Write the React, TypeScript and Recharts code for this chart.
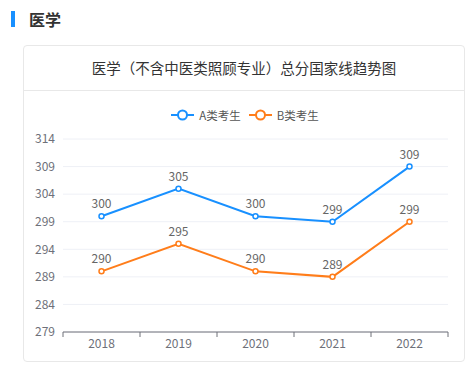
import { CartesianGrid, LabelList, Line, LineChart, XAxis, YAxis } from "recharts";

const YEARS = ["2018", "2019", "2020", "2021", "2022"];
const SCORES_A = [300, 305, 300, 299, 309];
const SCORES_B = [290, 295, 290, 289, 299];
const Y_TICKS = [279, 284, 289, 294, 299, 304, 309, 314];

const BLUE = "#1890ff";
const ORANGE = "#ff7d1a";
const FONT = '"Noto Sans CJK SC", "Noto Sans", sans-serif';

const data = YEARS.map((year, i) => ({ year, a: SCORES_A[i], b: SCORES_B[i] }));

const PLOT_LEFT = 63;
const PLOT_RIGHT = 448;
const BAND = (PLOT_RIGHT - PLOT_LEFT) / YEARS.length;

// echarts-style ticks between categories
function YearTick(props: any) {
  const { x, y, payload, index } = props;
  const isLast = index === YEARS.length - 1;
  return (
    <g>
      <line x1={x - BAND / 2} x2={x - BAND / 2} y1={y - 8} y2={y - 3} stroke="#6e7079" />
      {isLast && <line x1={x + BAND / 2} x2={x + BAND / 2} y1={y - 8} y2={y - 3} stroke="#6e7079" />}
      <text x={x} y={y + 8} textAnchor="middle" fill="#6e7079" fontSize={12} fontFamily={FONT}>
        {payload.value}
      </text>
    </g>
  );
}

function LegendRow() {
  const items = [
    { name: "A类考生", color: BLUE },
    { name: "B类考生", color: ORANGE },
  ];
  return (
    <div style={{ display: "flex", justifyContent: "center", gap: 8, fontSize: 11.5, color: "#555", fontFamily: FONT }}>
      {items.map((it) => (
        <div key={it.name} style={{ display: "flex", alignItems: "center", gap: 5 }}>
          <svg width={23} height={12}>
            <line x1={0} x2={23} y1={6} y2={6} stroke={it.color} strokeWidth={2} />
            <circle cx={11.5} cy={6} r={4.5} fill="#fff" stroke={it.color} strokeWidth={2} />
          </svg>
          <span>{it.name}</span>
        </div>
      ))}
    </div>
  );
}

export default function App() {
  return (
    <div style={{ position: "absolute", left: 0, top: 0, width: 476, height: 374, background: "#fff", fontFamily: FONT }}>
      <div style={{ position: "absolute", left: 11, top: 11, width: 4, height: 16, background: "#1890ff" }} />
      <div style={{ position: "absolute", left: 29, top: 7, fontSize: 16, fontWeight: 700, color: "#333", lineHeight: "24px" }}>
        医学
      </div>
      <div
        style={{
          position: "absolute",
          left: 23,
          top: 45,
          width: 442,
          height: 317,
          border: "1px solid #e8e8e8",
          borderRadius: 4,
          boxSizing: "border-box",
        }}
      >
        <div style={{ height: 44, lineHeight: "44px", textAlign: "center", fontSize: 14.5, color: "#333", borderBottom: "1px solid #e8e8e8" }}>
          医学（不含中医类照顾专业）总分国家线趋势图
        </div>
      </div>
      <div style={{ position: "absolute", left: 7, top: 105, width: 476, lineHeight: "20px" }}>
        <LegendRow />
      </div>
      <div style={{ position: "absolute", left: 0, top: 0 }}>
        <LineChart width={476} height={374} data={data} margin={{ top: 139, right: 476 - PLOT_RIGHT, bottom: 12, left: 23 }}>
          <CartesianGrid vertical={false} stroke="#eef0f6" />
          <XAxis
            dataKey="year"
            axisLine={{ stroke: "#6e7079" }}
            tickLine={false}
            tick={<YearTick />}
            interval={0}
            padding={{ left: BAND / 2, right: BAND / 2 }}
          />
          <YAxis
            width={PLOT_LEFT - 23}
            domain={[279, 314]}
            ticks={Y_TICKS}
            axisLine={false}
            tickLine={false}
            tick={{ fill: "#6e7079", fontSize: 12, fontFamily: FONT }}
          />
          <Line
            dataKey="a"
            name="A类考生"
            stroke={BLUE}
            strokeWidth={2}
            dot={{ r: 2.5, fill: "#fff", stroke: BLUE, strokeWidth: 1.5 }}
            isAnimationActive={false}
          >
            <LabelList dataKey="a" position="top" offset={8} fill="#666" fontSize={12} fontFamily={FONT} />
          </Line>
          <Line
            dataKey="b"
            name="B类考生"
            stroke={ORANGE}
            strokeWidth={2}
            dot={{ r: 2.5, fill: "#fff", stroke: ORANGE, strokeWidth: 1.5 }}
            isAnimationActive={false}
          >
            <LabelList dataKey="b" position="top" offset={8} fill="#666" fontSize={12} fontFamily={FONT} />
          </Line>
        </LineChart>
      </div>
    </div>
  );
}
